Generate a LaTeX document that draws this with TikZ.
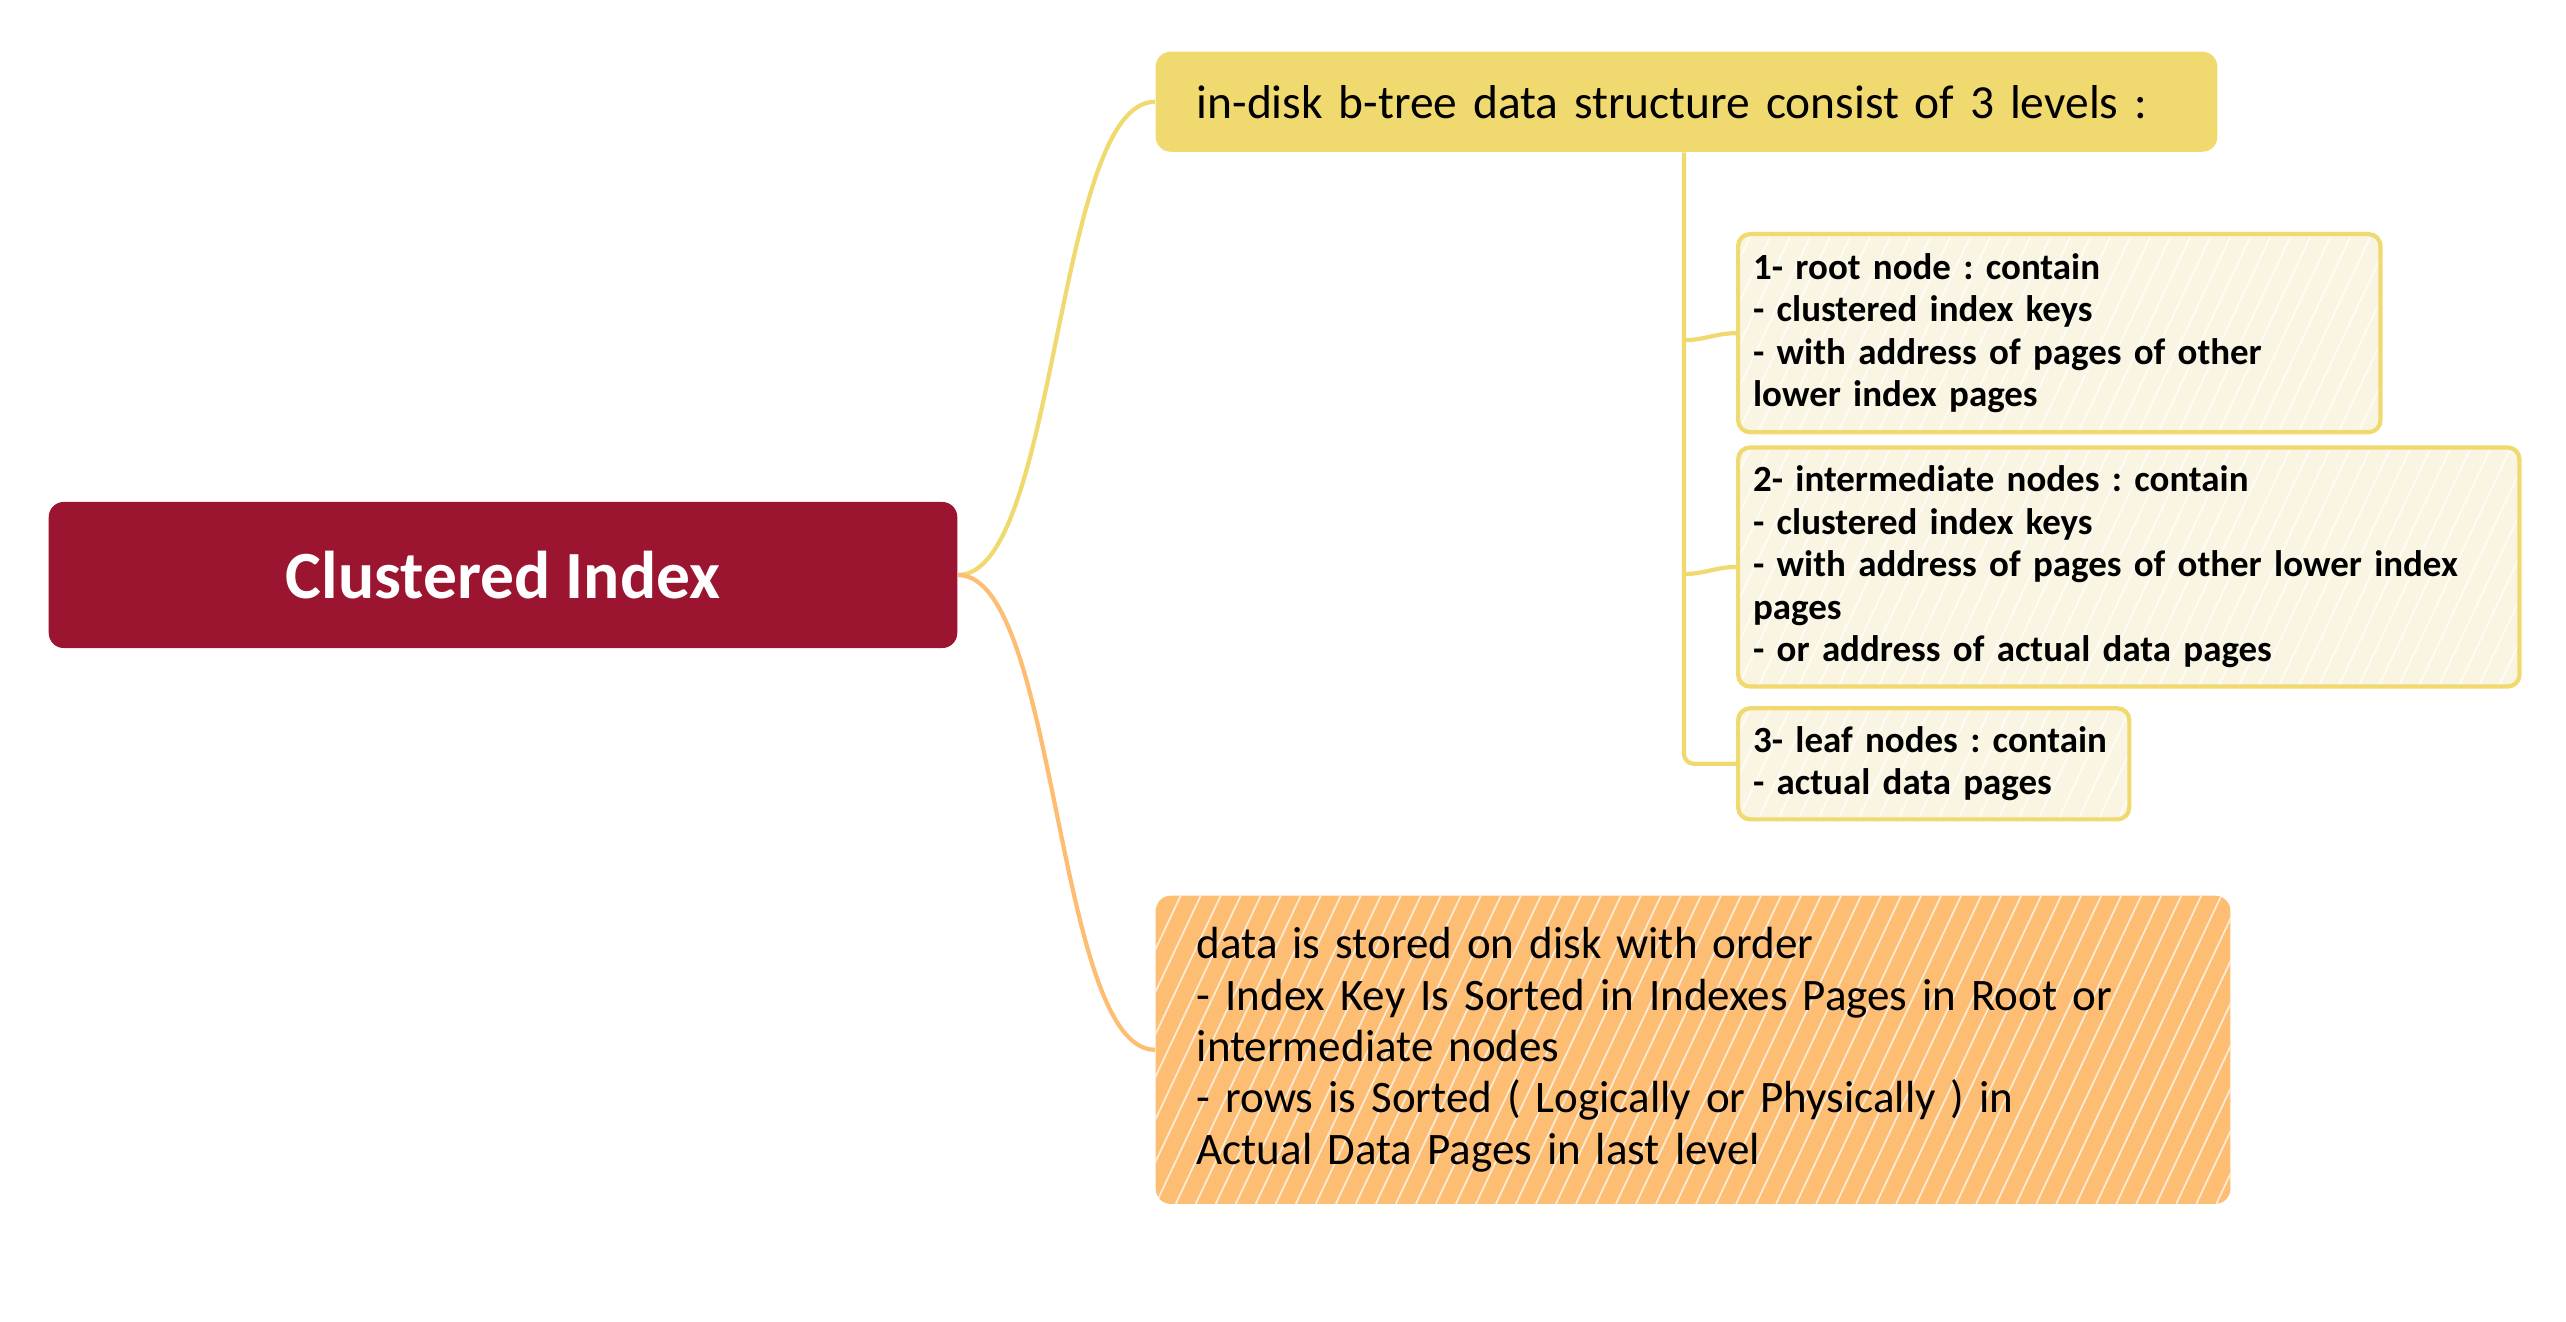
\documentclass[tikz,border=0pt]{standalone}
\usepackage{fontspec}
\setmainfont{Carlito}
\usepackage{xcolor}
\usepackage{tikz}
\usetikzlibrary{positioning,calc}
\frenchspacing
\definecolor{rootred}{RGB}{155,21,48}
\definecolor{lvlyellow}{RGB}{240,217,110}
\definecolor{leafcream}{RGB}{250,245,227}
\definecolor{sortorange}{RGB}{253,189,115}
\tikzset{
root/.style = {fill=rootred, rounded corners=0.15cm, text=white, font=\fontsize{19.2}{23}\selectfont\bfseries, minimum width=9.08cm, minimum height=1.46cm},
topic/.style = {rounded corners=0.15cm, align=left, inner xsep=0.41cm, inner ysep=0pt, font=\fontsize{13.5}{14.6}\selectfont},
leaf/.style = {draw=lvlyellow, line width=1.2pt, fill=leafcream, rounded corners=0.12cm, align=left, inner xsep=0.15cm, inner ysep=0pt, font=\fontsize{10.5}{12.1}\selectfont\bfseries, hatch=white},
hatch/.style = {path picture={\foreach \k in {-2,-1.8,...,11} \draw[#1, line width=0.5pt, opacity=0.7] ([xshift=\k cm]path picture bounding box.south west) -- ++(1.6cm,3.4cm);}},
branch/.style = {draw=lvlyellow, line width=1.2pt, rounded corners=0.1cm},
link/.style = {line width=1.2pt}
}
\begin{document}
\begin{tikzpicture}[x=0.01cm, y=-0.01cm]
    \useasboundingbox (0,0) rectangle (2566,1322);
    \node [root] (ci) at (503,575) {Clustered Index};
    \node [topic, fill=lvlyellow, anchor=north west, minimum width=10.61cm, minimum height=1.0cm, text width=9.79cm] (levels) at (1155,51) {in-disk b-tree data structure consist of 3 levels :};
    \draw [link, lvlyellow] (ci.east) .. controls +(100,0) and +(-100,0) .. (levels.west);
    \node [leaf, anchor=north west, minimum width=6.42cm, minimum height=1.98cm, text width=6.12cm] (lvlone) at (1736,232) {1- root node : contain\\- clustered index keys\\- with address of pages of other\\lower index pages};
    \node [leaf, below=0.11cm of lvlone.south west, anchor=north west, minimum width=7.81cm, minimum height=2.39cm, text width=7.51cm] (lvltwo) {2- intermediate nodes : contain\\- clustered index keys\\- with address of pages of other lower index\\pages\\- or address of actual data pages};
    \node [leaf, below=0.175cm of lvltwo.south west, anchor=north west, minimum width=3.91cm, minimum height=1.11cm, text width=3.61cm] (lvlthree) {3- leaf nodes : contain\\- actual data pages};
    \coordinate (trunk) at ([xshift=-0.52cm]lvlone.west);
    \draw [branch] (levels.south -| trunk) -- (trunk |- lvlthree.west) -- (lvlthree.west);
    \draw [branch] ([yshift=-2pt]trunk |- lvlone.west) .. controls +(20,0) and +(-20,0) .. (lvlone.west);
    \draw [branch] ([yshift=-2pt]trunk |- lvltwo.west) .. controls +(20,0) and +(-20,0) .. (lvltwo.west);
    \node [topic, fill=sortorange, hatch=white, anchor=north west, minimum width=10.74cm, minimum height=3.08cm, text width=9.92cm, font=\fontsize{12.8}{14.6}\selectfont] (sorted) at (1155,895) {data is stored on disk with order\\- Index Key Is Sorted in Indexes Pages in Root or\\intermediate nodes\\- rows is Sorted ( Logically or Physically ) in\\Actual Data Pages in last level};
    \draw [link, sortorange] (ci.east) .. controls +(100,0) and +(-100,0) .. (sorted.west);
\end{tikzpicture}
\end{document}
